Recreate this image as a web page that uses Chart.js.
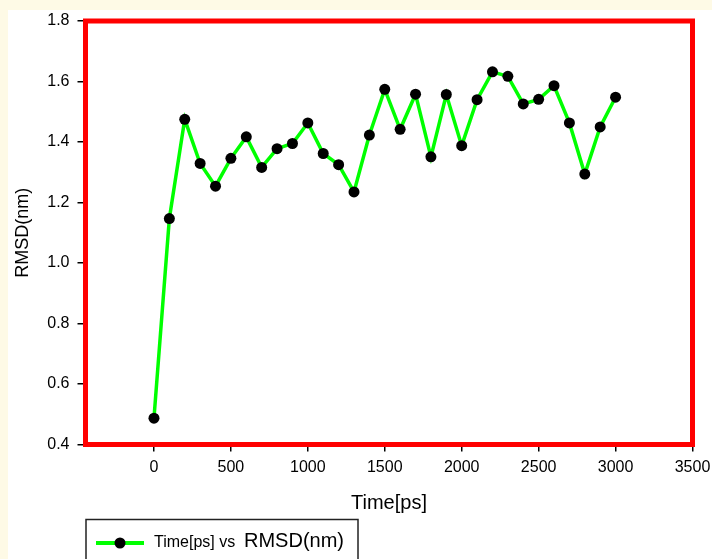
<!DOCTYPE html>
<html>
<head>
<meta charset="utf-8">
<style>
  html, body { margin: 0; padding: 0; background: #FEFAE6; }
  #c { display: block; }
</style>
<script src="https://cdn.jsdelivr.net/npm/chart.js@4.4.1/dist/chart.umd.min.js"></script>
</head>
<body>
<canvas id="c" width="712" height="559"></canvas>
<script>
// ---- data ----
const timePs = [0, 100, 200, 300, 400, 500, 600, 700, 800, 900, 1000, 1100, 1200, 1300, 1400, 1500,
                1600, 1700, 1800, 1900, 2000, 2100, 2200, 2300, 2400, 2500, 2600, 2700, 2800, 2900, 3000];
const rmsdNm = [0.487, 1.147, 1.475, 1.329, 1.254, 1.346, 1.417, 1.316, 1.378, 1.395, 1.463, 1.362, 1.325, 1.235, 1.423, 1.574,
                1.442, 1.558, 1.351, 1.557, 1.388, 1.540, 1.632, 1.617, 1.526, 1.541, 1.586, 1.463, 1.294, 1.450, 1.548];
const xTicks = [0, 500, 1000, 1500, 2000, 2500, 3000, 3500];
const yTicks = [0.4, 0.6, 0.8, 1.0, 1.2, 1.4, 1.6, 1.8];
const seriesLabel = 'Time[ps] vs RMSD(nm)';
const xTitle = 'Time[ps]';
const yTitle = 'RMSD(nm)';

const FONT = "'Liberation Sans', Arial, sans-serif";

const bgPlugin = {
  id: 'bg',
  beforeDraw(chart) {
    const ctx = chart.ctx;
    ctx.save();
    ctx.fillStyle = '#FEFAE6';
    ctx.fillRect(0, 0, chart.width, chart.height);
    ctx.fillStyle = '#FFFFFF';
    ctx.fillRect(8, 10, chart.width - 8, chart.height - 10);
    ctx.restore();
  },
  beforeDatasetsDraw(chart) {
    const a = chart.chartArea;
    const ctx = chart.ctx;
    ctx.save();
    ctx.strokeStyle = '#FF0000';
    ctx.lineWidth = 5;
    ctx.lineJoin = 'miter';
    ctx.strokeRect(a.left, a.top, a.right - a.left, a.bottom - a.top);
    ctx.restore();
  },
  afterDraw(chart) {
    const ctx = chart.ctx;
    const ds = chart.data.datasets[0];
    ctx.save();
    // legend box
    ctx.strokeStyle = '#222222';
    ctx.lineWidth = 1.5;
    ctx.strokeRect(86, 519.5, 272, 60);
    // sample line
    ctx.strokeStyle = ds.borderColor;
    ctx.lineWidth = 4;
    ctx.beginPath();
    ctx.moveTo(96, 543);
    ctx.lineTo(144, 543);
    ctx.stroke();
    ctx.fillStyle = ds.pointBackgroundColor;
    ctx.beginPath();
    ctx.arc(120, 543, 5.5, 0, Math.PI * 2);
    ctx.fill();
    // text
    const parts = ds.label.split(' vs ');
    ctx.fillStyle = '#000000';
    ctx.textBaseline = 'alphabetic';
    ctx.textAlign = 'left';
    ctx.font = '16px ' + FONT;
    const first = parts[0] + ' vs ';
    ctx.fillText(first, 154, 547);
    ctx.font = '20px ' + FONT;
    ctx.fillText(parts[1], 244, 547);
    ctx.restore();
  }
};

new Chart(document.getElementById('c'), {
  type: 'line',
  data: {
    datasets: [{
      label: seriesLabel,
      data: timePs.map((t, i) => ({ x: t, y: rmsdNm[i] })),
      borderColor: '#00FF00',
      borderWidth: 3.5,
      pointBackgroundColor: '#000000',
      pointBorderColor: '#000000',
      pointRadius: 5.5,
      pointBorderWidth: 0,
      tension: 0,
      fill: false
    }]
  },
  options: {
    responsive: false,
    animation: false,
    devicePixelRatio: 1,
    layout: { padding: { left: 0, right: 19.5, top: 21, bottom: 0 } },
    plugins: { legend: { display: false }, tooltip: { enabled: false } },
    scales: {
      x: {
        type: 'linear',
        min: -445,
        max: 3500,
        afterBuildTicks(s) { s.ticks = xTicks.map(v => ({ value: v })); },
        afterFit(s) { s.height = 114.5; s.paddingLeft = 0; s.paddingRight = 0; },
        grid: { drawOnChartArea: false, drawTicks: true, tickLength: 7, color: '#000000', lineWidth: 1.5 },
        border: { display: false },
        ticks: { color: '#000000', font: { family: FONT, size: 16 }, padding: 6, maxRotation: 0, autoSkip: false,
                 callback: v => String(v) },
        title: { display: true, text: xTitle, color: '#000000', font: { family: FONT, size: 20 }, padding: { top: 0, bottom: 44 } }
      },
      y: {
        type: 'linear',
        min: 0.4,
        max: 1.8,
        afterBuildTicks(s) { s.ticks = yTicks.map(v => ({ value: v })); },
        afterFit(s) { s.width = 85.5; s.paddingTop = 0; s.paddingBottom = 0; },
        grid: { drawOnChartArea: false, drawTicks: true, tickLength: 8, color: '#000000', lineWidth: 1.5 },
        border: { display: false },
        ticks: { color: '#000000', font: { family: FONT, size: 16 }, padding: 8, autoSkip: false,
                 callback: v => Number(v).toFixed(1) },
        title: { display: true, text: yTitle, color: '#000000', font: { family: FONT, size: 18 }, padding: { top: 12, bottom: 0 } }
      }
    }
  },
  plugins: [bgPlugin]
});
</script>
</body>
</html>
